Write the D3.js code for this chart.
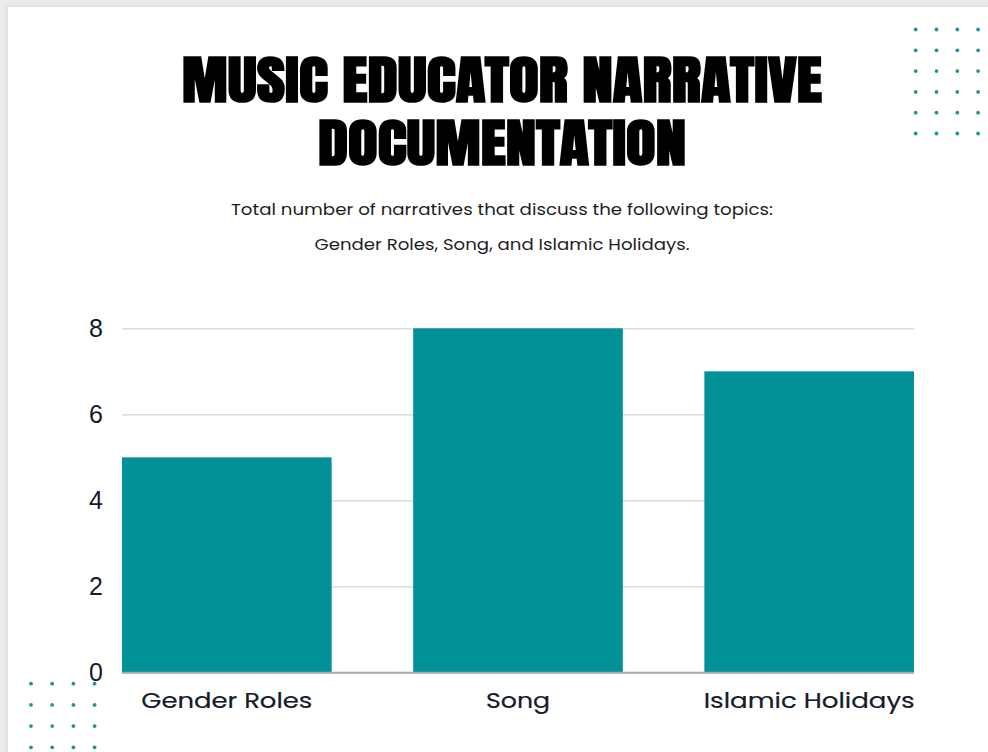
<!DOCTYPE html>
<html>
<head>
<meta charset="utf-8">
<script src="https://cdn.jsdelivr.net/npm/d3@7"></script>
<style>
  html, body { margin: 0; padding: 0; background: #ebebeb; }
  svg { display: block; }
</style>
</head>
<body>
<svg id="chart" width="988" height="752"></svg>
<script>
// Narrative counts per topic
const categories = ["Gender Roles", "Song", "Islamic Holidays"];
const counts = [5, 8, 7];
const yTicks = [0, 2, 4, 6, 8];
const titleLines = ["MUSIC EDUCATOR NARRATIVE", "DOCUMENTATION"];
const subtitleLines = [
  "Total number of narratives that discuss the following topics:",
  "Gender Roles, Song, and Islamic Holidays."
];

const W = 988, H = 752;
const teal = "#029196";
const ink = "#131c2b";
const svg = d3.select("#chart");

// page card with soft shadow
const defs = svg.append("defs");
const f = defs.append("filter").attr("id", "shadow")
  .attr("x", "-5%").attr("y", "-5%").attr("width", "110%").attr("height", "110%");
f.append("feDropShadow").attr("dx", 0).attr("dy", 0).attr("stdDeviation", 3)
  .attr("flood-color", "#000").attr("flood-opacity", 0.12);
svg.append("rect").attr("width", W).attr("height", H).attr("fill", "#ececec");
svg.append("rect").attr("x", 8).attr("y", 7).attr("width", W + 20).attr("height", H + 20)
  .attr("fill", "#ffffff").attr("filter", "url(#shadow)");

// decorative dot grids
function dotGrid(x0, y0, cols, rows, step) {
  const pts = d3.cross(d3.range(cols), d3.range(rows));
  svg.append("g").selectAll("circle").data(pts).join("circle")
    .attr("cx", d => x0 + d[0] * step)
    .attr("cy", d => y0 + d[1] * step)
    .attr("r", 1.9)
    .attr("fill", "#1b9598");
}
dotGrid(915.7, 29.5, 4, 6, 20.8);
dotGrid(31, 683.7, 4, 4, 21.2);

// title: one text block, one tspan per line
const titleFont = "Anton, 'Liberation Sans Narrow', 'DejaVu Sans Condensed', sans-serif";
const titleWidths = [640, 368];
svg.append("text")
  .attr("text-anchor", "middle")
  .attr("font-family", titleFont)
  .attr("font-weight", "bold")
  .attr("font-size", 52)
  .attr("fill", "#000")
  .selectAll("tspan").data(titleLines).join("tspan")
  .attr("x", 502)
  .attr("y", (d, i) => 101.5 + i * 63)
  .attr("textLength", (d, i) => titleWidths[i])
  .attr("lengthAdjust", "spacingAndGlyphs")
  .text(d => d);

// subtitle
const bodyFont = "Poppins, Inter, Lato, 'Open Sans', sans-serif";
const subWidths = [542, 375];
svg.append("g").selectAll("text").data(subtitleLines).join("text")
  .attr("x", 502)
  .attr("y", (d, i) => 215 + i * 35)
  .attr("text-anchor", "middle")
  .attr("font-family", bodyFont)
  .attr("font-size", 16)
  .attr("fill", "#1e1e1e")
  .attr("textLength", (d, i) => subWidths[i])
  .attr("lengthAdjust", "spacingAndGlyphs")
  .text(d => d);

// plot area
const plot = { left: 122, right: 914, top: 328.3, bottom: 672.5 };
const x = d3.scaleBand().domain(categories)
  .range([plot.left, plot.right]).paddingInner(0.28).paddingOuter(0);
const y = d3.scaleLinear().domain([0, 8]).range([plot.bottom, plot.top]);

// gridlines + y labels
const yAxis = svg.append("g")
  .attr("transform", `translate(${plot.left},0)`)
  .call(d3.axisLeft(y).tickValues(yTicks).tickSize(-(plot.right - plot.left)).tickPadding(19).tickFormat(d3.format("d")));
yAxis.select(".domain").remove();
yAxis.selectAll(".tick line")
  .attr("stroke", d => d === 0 ? "#a9a9a9" : "#d3d3d3")
  .attr("stroke-width", 1.3);
yAxis.selectAll(".tick text")
  .attr("font-family", "'Liberation Sans', Arial, sans-serif")
  .attr("font-size", 25)
  .attr("fill", ink);

// bars
svg.append("g").selectAll("rect").data(categories).join("rect")
  .attr("x", d => x(d))
  .attr("y", (d, i) => y(counts[i]))
  .attr("width", x.bandwidth())
  .attr("height", (d, i) => y(0) - y(counts[i]))
  .attr("fill", teal);

// baseline redrawn on top of the bars
svg.append("line")
  .attr("x1", plot.left).attr("x2", plot.right)
  .attr("y1", y(0)).attr("y2", y(0))
  .attr("stroke", "#a9a9a9").attr("stroke-width", 1.3);

// category labels
const labelWidths = [171, 64, 211];
const xAxis = svg.append("g")
  .attr("transform", `translate(0,${plot.bottom})`)
  .call(d3.axisBottom(x).tickSize(0).tickPadding(20));
xAxis.select(".domain").remove();
xAxis.selectAll(".tick text")
  .attr("font-family", bodyFont)
  .attr("font-size", 22)
  .attr("font-weight", 400)
  .attr("fill", ink)
  .attr("stroke", ink)
  .attr("stroke-width", 0.2)
  .attr("textLength", (d, i) => labelWidths[i])
  .attr("lengthAdjust", "spacingAndGlyphs");
</script>
</body>
</html>
